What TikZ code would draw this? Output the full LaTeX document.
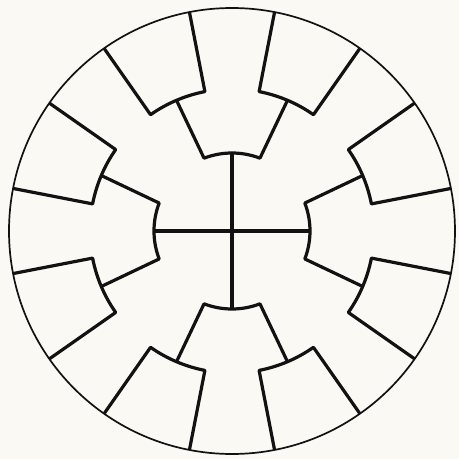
\documentclass[tikz,border=0pt]{standalone}
\definecolor{paper}{RGB}{250,249,244}
\definecolor{ink}{RGB}{18,18,18}
\begin{document}
\begin{tikzpicture}[x=1pt,y=1pt,line join=round,draw=ink,
  spoke/.style={line width=3.2pt}]
\fill[paper] (-232,-228) rectangle (227,231);
\draw[line width=1.7pt] (0,0) circle (223);
\draw[spoke] (-90:78) -- (90:78);
\draw[spoke] (180:78) -- (0:78);
\foreach \a in {0,90,180,270}{
  \draw[spoke] (\a-23:142) -- (\a-21:78) arc[start angle=\a-21,end angle=\a+21,radius=78] -- (\a+23:142);
  \foreach \i/\o in {11/35,-11/-35}
    \draw[spoke] (\a+\i:223) -- (\a+\i:142) arc[start angle=\a+\i,end angle=\a+\o,radius=142] -- (\a+\o:223);
}
\end{tikzpicture}
\end{document}
